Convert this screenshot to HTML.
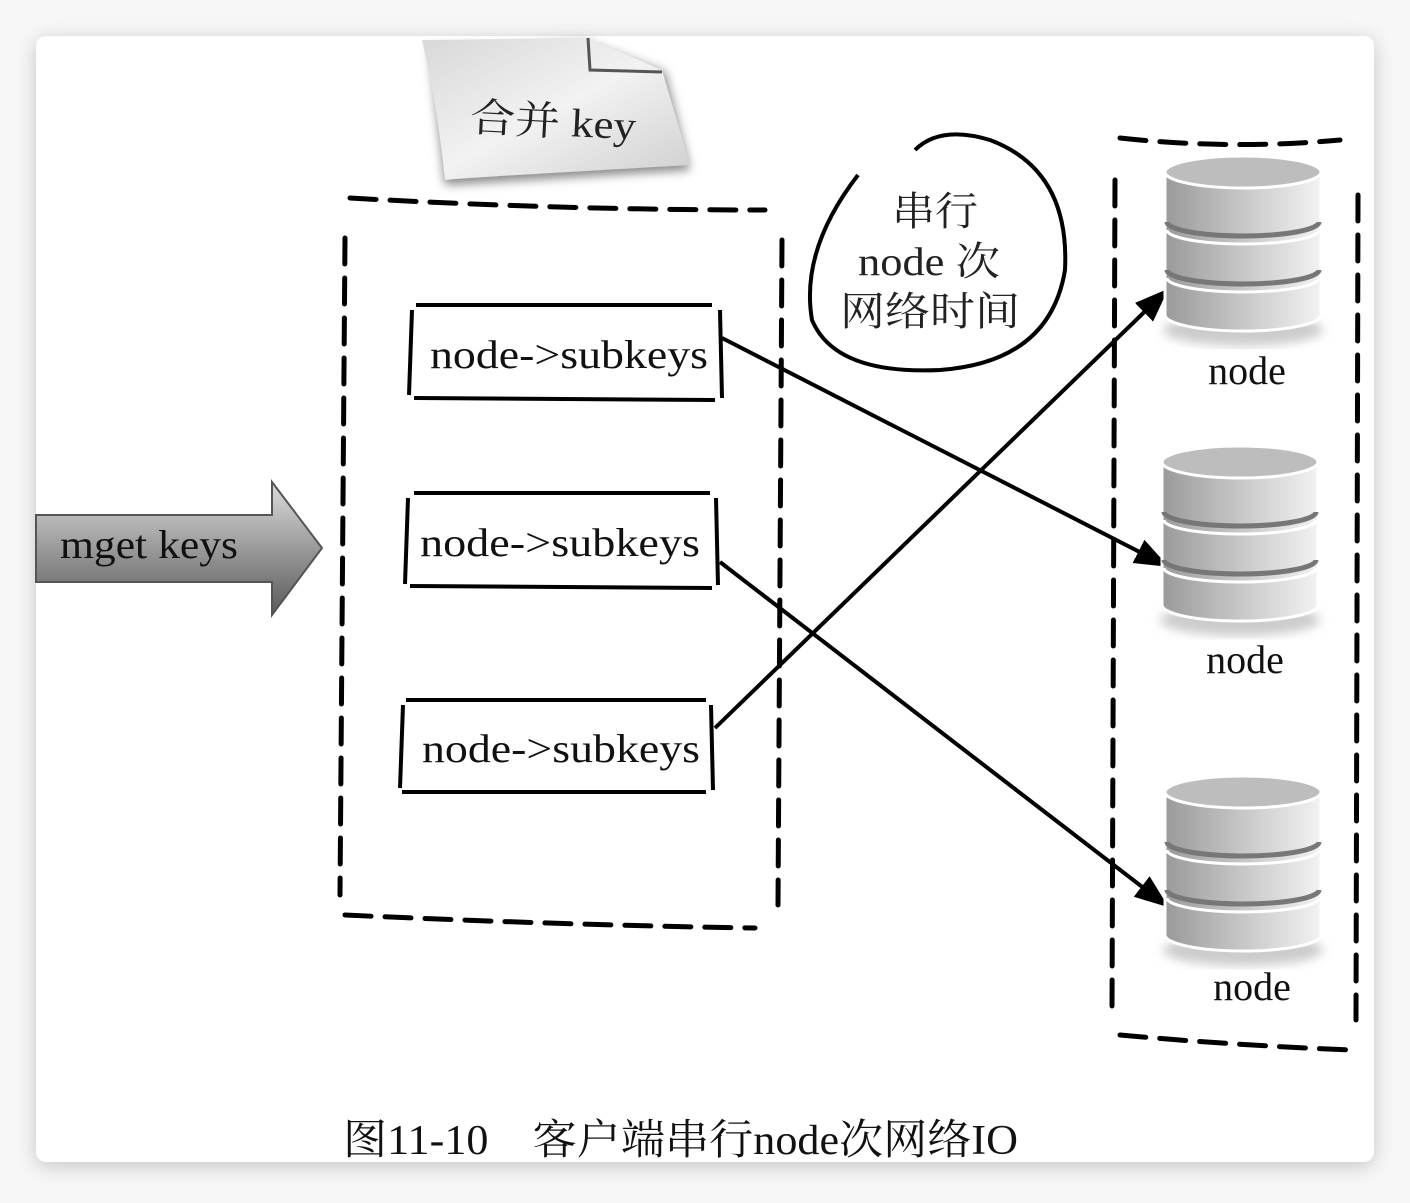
<!DOCTYPE html>
<html><head><meta charset="utf-8"><style>
body{margin:0;width:1410px;height:1198px;background:#f7f7f7;overflow:hidden}
</style></head><body>
<svg width="1410" height="1198" viewBox="0 0 1410 1198" xmlns="http://www.w3.org/2000/svg" style="font-family:'Liberation Serif','Noto Serif CJK SC',serif">
<defs>
<filter id="sh" x="-5%" y="-5%" width="110%" height="110%"><feGaussianBlur stdDeviation="10"/></filter>
<filter id="sh2"><feGaussianBlur stdDeviation="5"/></filter>
<linearGradient id="cyl" x1="0" x2="1"><stop offset="0" stop-color="#9a9a9a"/><stop offset="0.6" stop-color="#d0d0d0"/><stop offset="1" stop-color="#f2f2f2"/></linearGradient>
<linearGradient id="arr" x1="0" y1="0" x2="0" y2="1"><stop offset="0" stop-color="#dcdcdc"/><stop offset="0.5" stop-color="#9a9a9a"/><stop offset="1" stop-color="#5a5a5a"/></linearGradient>
<linearGradient id="note" x1="0" y1="0" x2="1" y2="1"><stop offset="0" stop-color="#d8d8d8"/><stop offset="0.5" stop-color="#f2f2f2"/><stop offset="1" stop-color="#cfcfcf"/></linearGradient>
<marker id="ah" markerWidth="34" markerHeight="26" refX="32" refY="13" orient="auto" markerUnits="userSpaceOnUse" viewBox="0 0 34 26"><path d="M0,0 L34,13 L0,26 z" fill="#000"/></marker>
</defs>
<rect x="36" y="40" width="1338" height="1126" rx="10" fill="#c4c4c4" filter="url(#sh)"/>
<rect x="36" y="36" width="1338" height="1126" rx="10" fill="#fff"/>

<path d="M430,50 L585,42 L665,72 L690,170 L445,185 Z" fill="#888" filter="url(#sh2)"/>
<path d="M422,40 L588,38 L662,70 L690,165 Q460,178 445,180 Q438,110 422,40 Z" fill="url(#note)"/>
<path d="M588,38 L590,70 L662,72" fill="none" stroke="#555" stroke-width="3"/>
<text x="470" y="135" font-size="40" fill="#222" transform="rotate(3 550 125)" textLength="166" lengthAdjust="spacingAndGlyphs">合并 key</text>

<g fill="none" stroke="#000" stroke-width="5" stroke-dasharray="26 14" stroke-linecap="round">
<path d="M350,198 Q560,210 765,210"/>
<path d="M345,238 L340,895"/>
<path d="M782,240 L778,905"/>
<path d="M345,915 Q560,925 755,928"/>
<path d="M1120,138 Q1230,150 1340,140"/>
<path d="M1115,180 L1112,1010"/>
<path d="M1358,195 L1356,1020"/>
<path d="M1120,1035 Q1230,1045 1350,1050"/>
</g>

<g fill="none" stroke="#000" stroke-width="4">
<path d="M416,305 L712,305 M414,398 L715,400 M412,310 L409,395 M720,310 L722,398"/>
<path d="M414,493 L710,493 M410,586 L712,588 M408,498 L405,584 M716,498 L718,585"/>
<path d="M406,700 L706,700 M402,792 L706,792 M403,705 L400,788 M711,705 L713,790"/>
</g>
<g font-size="40" fill="#111">
<text x="430" y="368" textLength="278" lengthAdjust="spacingAndGlyphs">node-&gt;subkeys</text>
<text x="420" y="556" textLength="280" lengthAdjust="spacingAndGlyphs">node-&gt;subkeys</text>
<text x="422" y="762" textLength="278" lengthAdjust="spacingAndGlyphs">node-&gt;subkeys</text>
</g>

<g stroke="#000" stroke-width="4" fill="none">
<path d="M722,338 L1167,566" marker-end="url(#ah)"/>
<path d="M720,562 L1167,906" marker-end="url(#ah)"/>
<path d="M715,728 L1167,290" marker-end="url(#ah)"/>
</g>

<path d="M858,175 Q800,250 812,320 Q835,375 940,370 Q1050,362 1065,270 Q1070,170 990,140 Q940,125 915,150" fill="none" stroke="#000" stroke-width="4"/>
<g font-size="40" fill="#222">
<text x="892" y="225" textLength="86" lengthAdjust="spacingAndGlyphs">串行</text>
<text x="858" y="275" textLength="142" lengthAdjust="spacingAndGlyphs">node 次</text>
<text x="840" y="325" textLength="180" lengthAdjust="spacingAndGlyphs">网络时间</text>
</g>

<path d="M36,515 L272,515 L272,482 L322,548 L272,615 L272,582 L36,582 Z" fill="url(#arr)" stroke="#555" stroke-width="2"/>
<text x="60" y="558" font-size="40" fill="#111" textLength="178" lengthAdjust="spacingAndGlyphs">mget keys</text>

<g id="cy">
<ellipse cx="1243" cy="330" rx="80" ry="16" fill="#ccc" filter="url(#sh2)"/>
<path d="M1165,172 L1165,315 A78,16 0 0 0 1321,315 L1321,172 Z" fill="url(#cyl)" stroke="#fff" stroke-width="3"/>
<ellipse cx="1243" cy="172" rx="78" ry="16" fill="#bdbdbd" stroke="#fff" stroke-width="3"/>
<path d="M1167,222 A76,14 0 0 0 1319,222" fill="none" stroke="#777" stroke-width="5"/>
<path d="M1167,230 A76,14 0 0 0 1319,230" fill="none" stroke="#fff" stroke-width="3"/>
<path d="M1167,270 A76,14 0 0 0 1319,270" fill="none" stroke="#777" stroke-width="5"/>
<path d="M1167,278 A76,14 0 0 0 1319,278" fill="none" stroke="#fff" stroke-width="3"/>
</g>
<use href="#cy" transform="translate(-3,290)"/>
<use href="#cy" transform="translate(0,620)"/>
<g font-size="40" fill="#111" text-anchor="middle">
<text x="1247" y="384">node</text>
<text x="1245" y="673">node</text>
<text x="1252" y="1000">node</text>
</g>

<text x="343" y="1154" font-size="42" fill="#111" textLength="675" lengthAdjust="spacingAndGlyphs">图11-10　客户端串行node次网络IO</text>
</svg>
</body></html>
